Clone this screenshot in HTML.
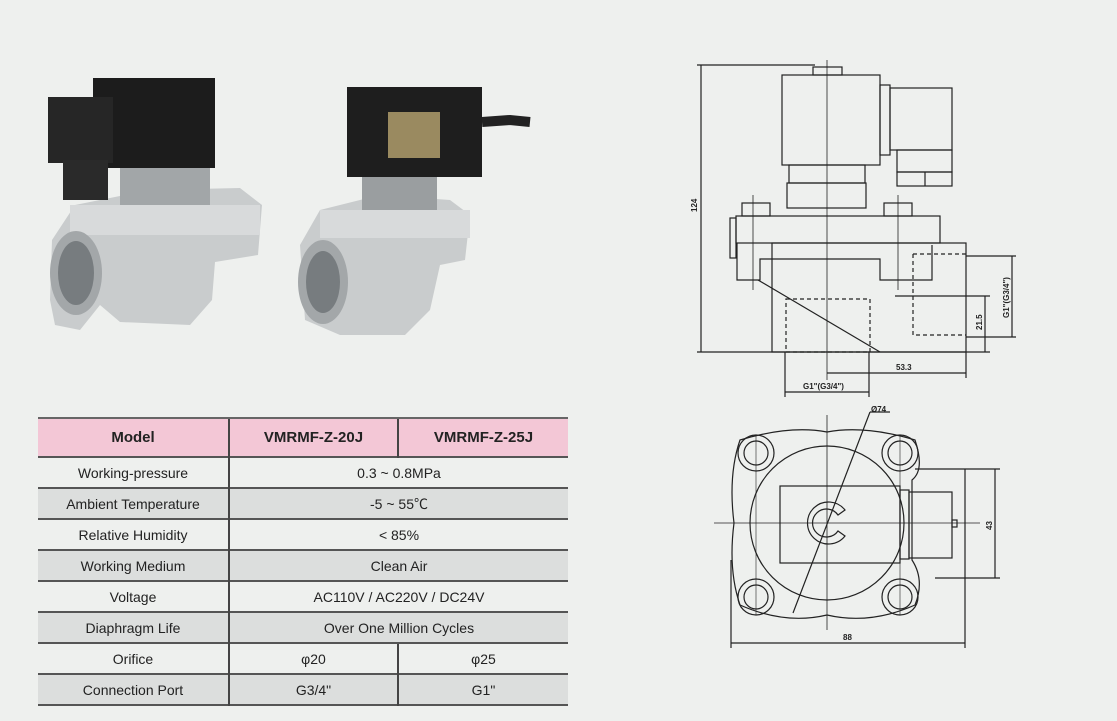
<!DOCTYPE html>
<html><head><meta charset="utf-8"><style>
body{margin:0;width:1117px;height:721px;background:#eef0ee;font-family:"Liberation Sans","Noto Sans CJK SC",sans-serif;position:relative;overflow:hidden}
table{position:absolute;left:38px;top:417px;border-collapse:collapse;width:530px}
td{border-top:2px solid #555;text-align:center;font-size:14px;color:#222;height:29px;padding:0}
tr.g td{background:#dcdedd}
tr.h td{background:#f3c7d6;font-weight:bold;font-size:15px;height:37px;border-top:2px solid #666}
td.c{border-left:2px solid #444}
table{border-bottom:2px solid #555}
</style></head><body>
<svg width="1117" height="721" style="position:absolute;left:0;top:0">
<!-- left valve photo -->
<g>
<path d="M52 240 L75 205 L150 190 L240 188 L262 205 L258 255 L215 262 L212 300 L190 325 L120 322 L100 305 L80 330 L55 325 L50 300 Z" fill="#c9cccd"/>
<rect x="70" y="205" width="190" height="30" fill="#d8dadb"/>
<ellipse cx="76" cy="273" rx="26" ry="42" fill="#a3a7a9"/><ellipse cx="76" cy="273" rx="18" ry="32" fill="#777c7f"/>
<rect x="120" y="165" width="90" height="40" fill="#a2a6a8"/>
<rect x="93" y="78" width="122" height="90" fill="#1c1c1c"/>
<rect x="48" y="97" width="65" height="66" fill="#262626"/><rect x="63" y="160" width="45" height="40" fill="#2a2a2a"/>
</g>
<g>
<path d="M300 245 L320 210 L380 195 L450 200 L470 215 L465 260 L440 265 L430 310 L405 335 L340 335 L305 320 Z" fill="#c9cccd"/>
<rect x="320" y="210" width="150" height="28" fill="#d8dadb"/>
<ellipse cx="323" cy="282" rx="25" ry="42" fill="#a3a7a9"/><ellipse cx="323" cy="282" rx="17" ry="31" fill="#777c7f"/>
<rect x="362" y="175" width="75" height="35" fill="#9a9ea0"/>
<rect x="347" y="87" width="135" height="90" fill="#1e1e1e"/>
<rect x="388" y="112" width="52" height="46" fill="#9a8a60"/>
<path d="M482 122 L510 120 L530 122" stroke="#222" stroke-width="10" fill="none"/>
</g>
<!-- side view drawing -->
<g fill="none" stroke="#222" stroke-width="1.2">
<line x1="701" y1="65" x2="701" y2="352"/>
<line x1="697" y1="65" x2="815" y2="65"/>
<line x1="697" y1="352" x2="990" y2="352"/>
<rect x="813" y="67" width="29" height="8"/>
<rect x="782" y="75" width="98" height="90"/>
<rect x="880" y="85" width="10" height="70"/>
<rect x="890" y="88" width="62" height="62"/>
<rect x="897" y="150" width="55" height="22"/>
<rect x="897" y="172" width="55" height="14"/><line x1="925" y1="172" x2="925" y2="186"/>
<rect x="789" y="165" width="76" height="18"/>
<rect x="787" y="183" width="79" height="25"/>
<rect x="742" y="203" width="28" height="13"/><rect x="884" y="203" width="28" height="13"/>
<rect x="736" y="216" width="204" height="27"/>
<rect x="730" y="218" width="6" height="40"/>
<path d="M737 243 L737 280 L760 280 L760 259 L880 259 L880 280 L932 280 L932 245"/>
<rect x="772" y="243" width="194" height="109"/>
<line x1="758" y1="280" x2="880" y2="352"/>
<g stroke-dasharray="4,3"><rect x="786" y="299" width="84" height="53"/><path d="M913 254 L966 254 M913 254 L913 335 L966 335"/></g>
<line x1="827" y1="60" x2="827" y2="380" stroke-width="0.8"/>
<line x1="753" y1="195" x2="753" y2="290" stroke-width="0.8"/><line x1="898" y1="195" x2="898" y2="290" stroke-width="0.8"/>
<line x1="827" y1="373" x2="966" y2="373"/><line x1="966" y1="352" x2="966" y2="378"/>
<line x1="785" y1="392" x2="869" y2="392"/><line x1="785" y1="352" x2="785" y2="397"/><line x1="869" y1="352" x2="869" y2="397"/>
<line x1="985" y1="296" x2="985" y2="352"/><line x1="895" y1="296" x2="990" y2="296"/>
<line x1="1012" y1="256" x2="1012" y2="337"/><line x1="966" y1="256" x2="1016" y2="256"/><line x1="966" y1="337" x2="1016" y2="337"/>
</g>
<g font-size="8" font-weight="bold" fill="#222" font-family="Liberation Sans,sans-serif">
<text x="896" y="370">53.3</text><text x="803" y="389">G1"(G3/4")</text>
<text transform="translate(697,212) rotate(-90)">124</text>
<text transform="translate(982,330) rotate(-90)">21.5</text>
<text transform="translate(1009,318) rotate(-90)">G1"(G3/4")</text>
<text x="871" y="412">Ø74</text>
<text x="843" y="640">88</text>
<text transform="translate(992,530) rotate(-90)">43</text>
</g>
<!-- top view -->
<g fill="none" stroke="#222" stroke-width="1.2">
<path d="M740 440 Q790 425 827 432 Q865 425 915 440 Q925 470 912 480 L912 560 Q925 580 915 605 Q870 625 827 615 Q785 625 740 605 Q728 570 734 523 Q728 475 740 440 Z"/>
<circle cx="827" cy="523" r="77"/>
<g><circle cx="756" cy="453" r="18"/><circle cx="756" cy="453" r="12"/><circle cx="900" cy="453" r="18"/><circle cx="900" cy="453" r="12"/><circle cx="756" cy="597" r="18"/><circle cx="756" cy="597" r="12"/><circle cx="900" cy="597" r="18"/><circle cx="900" cy="597" r="12"/></g>
<rect x="780" y="486" width="120" height="77"/>
<rect x="900" y="490" width="9" height="69"/>
<rect x="909" y="492" width="43" height="66"/>
<rect x="952" y="520" width="5" height="7"/>
<path d="M845 510 A21 21 0 1 0 845 536 L838 531 A14 14 0 1 1 838 515 Z"/>
<line x1="793" y1="613" x2="870" y2="412"/><line x1="870" y1="412" x2="890" y2="412"/>
<line x1="714" y1="523" x2="980" y2="523" stroke-width="0.8"/>
<line x1="827" y1="415" x2="827" y2="630" stroke-width="0.8"/>
<line x1="756" y1="435" x2="756" y2="615" stroke-width="0.6"/><line x1="900" y1="435" x2="900" y2="615" stroke-width="0.6"/>
<line x1="995" y1="469" x2="995" y2="578"/><line x1="915" y1="469" x2="1000" y2="469"/><line x1="935" y1="578" x2="1000" y2="578"/>
<line x1="731" y1="643" x2="965" y2="643"/><line x1="731" y1="560" x2="731" y2="648"/><line x1="965" y1="469" x2="965" y2="648"/>
</g>
</svg>
<table>
<tr class="h"><td style="width:190px">Model</td><td class="c" style="width:167px">VMRMF-Z-20J</td><td class="c">VMRMF-Z-25J</td></tr>
<tr><td>Working-pressure</td><td class="c" colspan="2">0.3 ~ 0.8MPa</td></tr>
<tr class="g"><td>Ambient Temperature</td><td class="c" colspan="2">-5 ~ 55℃</td></tr>
<tr><td>Relative Humidity</td><td class="c" colspan="2">&lt; 85%</td></tr>
<tr class="g"><td>Working Medium</td><td class="c" colspan="2">Clean Air</td></tr>
<tr><td>Voltage</td><td class="c" colspan="2">AC110V / AC220V / DC24V</td></tr>
<tr class="g"><td>Diaphragm Life</td><td class="c" colspan="2">Over One Million Cycles</td></tr>
<tr><td>Orifice</td><td class="c">φ20</td><td class="c">φ25</td></tr>
<tr class="g"><td>Connection Port</td><td class="c">G3/4"</td><td class="c">G1"</td></tr>
</table>
</body></html>
